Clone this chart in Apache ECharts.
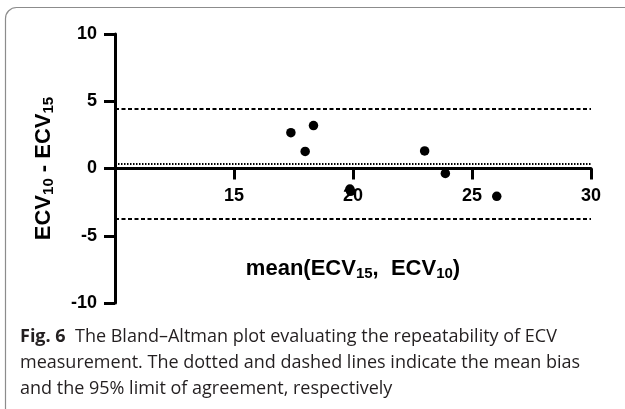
<!DOCTYPE html>
<html>
<head>
<meta charset="utf-8">
<script src="https://cdn.jsdelivr.net/npm/echarts@6/dist/echarts.min.js"></script>
<style>
  html, body { margin: 0; padding: 0; background: #fff; }
  #chart { width: 625px; height: 409px; }
</style>
</head>
<body>
<div id="chart"></div>
<script>
// mean of the two ECV measurements (x) and their difference (y)
const meanEcv = [17.39, 18.34, 17.99, 23.01, 23.88, 19.87, 19.9, 26.04]
const diffEcv = [2.66, 3.19, 1.27, 1.31, -0.37, -1.53, -1.7, -2.07]
// bias (dotted) and 95% limits of agreement (dashed)
const biasLine = [0.38]
const limitLines = [4.42, -3.73]
const xTicks = [10, 15, 20, 25, 30]
const yTicks = [-10, -5, 0, 5, 10]

const points = meanEcv.map((x, i) => [x, diffEcv[i]])
const axisFont = 'Liberation Sans, Arial, sans-serif'

const gridTop = 34
const gridBottom = 106
const gridH = 409 - gridTop - gridBottom
// x axis sits on y = 0, shifted up from the bottom of the grid
const yMin = yTicks[0]
const yMax = yTicks[yTicks.length - 1]
const xAxisOffset = -gridH * (0 - yMin) / (yMax - yMin)

const chart = echarts.init(document.getElementById('chart'), null, { renderer: 'canvas' })
const option = {
  backgroundColor: '#fff',
  animation: false,
  title: {
    left: 15,
    top: 319,
    text: '{b|Fig. 6}  The Bland–Altman plot evaluating the repeatability of ECV\n' +
      'measurement. The dotted and dashed lines indicate the mean bias\n' +
      'and the 95% limit of agreement, respectively',
    textStyle: {
      fontFamily: 'Open Sans',
      fontSize: 18,
      fontWeight: 'normal',
      color: '#231f20',
      lineHeight: 26,
      rich: {
        b: { fontFamily: 'Open Sans', fontSize: 18, fontWeight: 'bold', color: '#231f20', lineHeight: 26 }
      }
    }
  },
  graphic: [
    {
      type: 'rect',
      silent: true,
      shape: { x: 5.5, y: 7.5, width: 700, height: 500, r: 11 },
      style: { fill: 'none', stroke: '#8c8c8c', lineWidth: 1.2 }
    }
  ],
  grid: {
    left: 115, right: 34, top: gridTop, bottom: gridBottom,
    containLabel: false,
    outerBoundsMode: 'none'
  },
  xAxis: {
    type: 'value',
    min: xTicks[0],
    max: xTicks[xTicks.length - 1],
    interval: 5,
    offset: xAxisOffset,
    splitLine: { show: false },
    axisLine: { onZero: false, lineStyle: { color: '#000', width: 3 } },
    axisTick: { show: true, length: 11, lineStyle: { color: '#000', width: 3 } },
    axisLabel: {
      margin: 19,
      fontFamily: axisFont,
      fontSize: 18,
      fontWeight: 'bold',
      color: '#000',
      formatter: v => (v === xTicks[0] ? '' : String(v))
    },
    name: '{a|mean(ECV}{s|15}{a|,  ECV}{s|10}{a|)}',
    nameLocation: 'middle',
    nameGap: 88,
    nameTextStyle: {
      rich: {
        a: { fontFamily: axisFont, fontSize: 22, fontWeight: 'bold', color: '#000' },
        s: { fontFamily: axisFont, fontSize: 15, fontWeight: 'bold', color: '#000', padding: [10, 0, 0, 0] }
      }
    }
  },
  yAxis: {
    type: 'value',
    min: yMin,
    max: yMax,
    interval: 5,
    splitLine: { show: false },
    axisLine: { lineStyle: { color: '#000', width: 3 } },
    axisTick: { show: true, length: 11, lineStyle: { color: '#000', width: 3 } },
    axisLabel: {
      margin: 18,
      fontFamily: axisFont,
      fontSize: 18,
      fontWeight: 'bold',
      color: '#000'
    },
    name: '{a|ECV}{s|10}{a| - ECV}{s|15}',
    nameLocation: 'middle',
    nameRotate: 90,
    nameGap: 59,
    nameTextStyle: {
      rich: {
        a: { fontFamily: axisFont, fontSize: 22, fontWeight: 'bold', color: '#000' },
        s: { fontFamily: axisFont, fontSize: 15, fontWeight: 'bold', color: '#000', padding: [10, 0, 0, 0] }
      }
    }
  },
  series: [
    {
      type: 'scatter',
      symbol: 'circle',
      symbolSize: 9.5,
      itemStyle: { color: '#000', opacity: 1 },
      z: 5,
      data: points,
      markLine: {
        silent: true,
        symbol: 'none',
        label: { show: false },
        emphasis: { disabled: true },
        data: [
          { yAxis: biasLine[0], lineStyle: { color: '#000', width: 2, type: [1.5, 1.5] } },
          { yAxis: limitLines[0], lineStyle: { color: '#000', width: 2, type: [4, 2.5] } },
          { yAxis: limitLines[1], lineStyle: { color: '#000', width: 2, type: [4, 2.5] } }
        ]
      }
    }
  ]
}
chart.setOption(option)
</script>
</body>
</html>
